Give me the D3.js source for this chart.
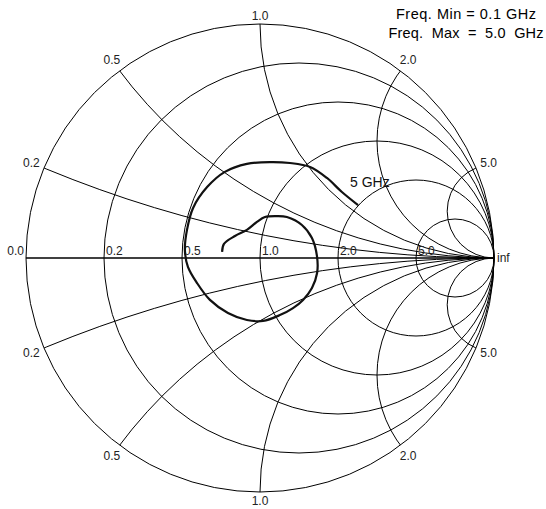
<!DOCTYPE html>
<html>
<head>
<meta charset="utf-8">
<script src="https://cdn.jsdelivr.net/npm/d3@7/dist/d3.min.js"></script>
<style>
  body { margin: 0; background: #fff; }
  svg { display: block; font-family: "Liberation Sans", Arial, sans-serif; }
</style>
</head>
<body>
<div id="smith"></div>
<script>
// Grid values (normalized resistance / reactance)
var rValues = [0.2, 0.5, 1.0, 2.0, 5.0];
var xValues = [0.2, 0.5, 1.0, 2.0, 5.0];
var rLabels = ["0.2", "0.5", "1.0", "2.0", "5.0"];
var xLabels = ["0.2", "0.5", "1.0", "2.0", "5.0"];

var gammaRe = [-0.162, -0.154, -0.107, -0.056, -0.013, 0.021, 0.073, 0.115, 0.179, 0.222,
  0.244, 0.244, 0.222, 0.184, 0.141, 0.085, 0.013, -0.056, -0.137, -0.214,
  -0.269, -0.308, -0.321, -0.312, -0.286, -0.226, -0.150, -0.056, 0.043, 0.128,
  0.214, 0.286, 0.350, 0.419];
var gammaIm = [0.026, 0.060, 0.094, 0.120, 0.154, 0.175, 0.179, 0.175, 0.141, 0.085,
  0.004, -0.064, -0.128, -0.179, -0.214, -0.244, -0.269, -0.265, -0.235, -0.179,
  -0.107, -0.038, 0.034, 0.120, 0.214, 0.303, 0.368, 0.402, 0.410, 0.406,
  0.389, 0.342, 0.282, 0.226];

var freqMin = "Freq. Min = 0.1 GHz";
var freqMax = "Freq.  Max  =  5.0  GHz";
var endLabel = "5 GHz";

var svg = d3.select("#smith")
  .append("svg")
  .attr("width", 546)
  .attr("height", 509);

var x = d3.scaleLinear().domain([-1, 1]).range([26, 494]);
var y = d3.scaleLinear().domain([-1, 1]).range([492, 24]);
var R = (x(1) - x(-1)) / 2;   // pixels per unit

// clip to the unit circle
svg.append("clipPath").attr("id", "unit")
  .append("circle")
  .attr("cx", x(0)).attr("cy", y(0)).attr("r", R);

var grid = svg.append("g")
  .attr("fill", "none")
  .attr("stroke", "#000")
  .attr("stroke-width", 1);

// Outer circle
grid.append("circle")
  .attr("cx", x(0)).attr("cy", y(0)).attr("r", R);

// Constant resistance circles
grid.selectAll(".rcircle")
  .data(rValues)
  .enter().append("circle")
  .attr("class", "rcircle")
  .attr("cx", d => x(d / (1 + d)))
  .attr("cy", y(0))
  .attr("r", d => R / (1 + d));

// Constant reactance arcs (both signs), clipped
var arcs = grid.append("g").attr("clip-path", "url(#unit)");
xValues.forEach(function(v) {
  [1, -1].forEach(function(s) {
    arcs.append("circle")
      .attr("cx", x(1))
      .attr("cy", y(s / v))
      .attr("r", R / v);
  });
});

// Real axis
grid.append("line")
  .attr("x1", x(-1)).attr("x2", x(1))
  .attr("y1", y(0)).attr("y2", y(0))
  .attr("stroke-width", 1.3);

// Labels
var labels = svg.append("g")
  .attr("font-size", 12)
  .attr("fill", "#222");

// resistance labels along the real axis
labels.selectAll(".rlab")
  .data(rValues)
  .enter().append("text")
  .attr("x", d => x((d - 1) / (d + 1)) + 2)
  .attr("y", y(0) - 3)
  .text((d, i) => rLabels[i]);

labels.append("text")
  .attr("x", x(-1) - 2).attr("y", y(0) - 3)
  .attr("text-anchor", "end")
  .text("0.0");

labels.append("text")
  .attr("x", x(1) + 3).attr("y", y(0) + 4)
  .text("inf");

// reactance labels around the rim
xValues.forEach(function(v, i) {
  [1, -1].forEach(function(s) {
    var gr = (v * v - 1) / (v * v + 1);
    var gi = s * 2 * v / (v * v + 1);
    var ang = Math.atan2(gi, gr);
    var c = Math.cos(ang), sn = Math.sin(ang);
    var dist = 3.5 + Math.abs(c) * 9 + Math.abs(sn) * 5;
    labels.append("text")
      .attr("x", x(gr) + c * dist)
      .attr("y", y(gi) - sn * dist + 4)
      .attr("text-anchor", "middle")
      .text(xLabels[i]);
  });
});

// Data trace
var pts = gammaRe.map((d, i) => [d, gammaIm[i]]);
var line = d3.line()
  .x(d => x(d[0]))
  .y(d => y(d[1]))
  .curve(d3.curveCatmullRom.alpha(0.5));

svg.append("path")
  .datum(pts)
  .attr("d", line)
  .attr("fill", "none")
  .attr("stroke", "#111")
  .attr("stroke-width", 2.2)
  .attr("stroke-linejoin", "round");

var last = pts[pts.length - 1];
svg.append("text")
  .attr("x", x(last[0]) - 8)
  .attr("y", y(last[1]) - 18)
  .attr("font-size", 14)
  .attr("fill", "#111")
  .text(endLabel);

// Frequency info
svg.append("text")
  .attr("x", 466).attr("y", 19)
  .attr("text-anchor", "middle")
  .attr("font-size", 14.5)
  .attr("textLength", 140)
  .attr("lengthAdjust", "spacing")
  .style("white-space", "pre")
  .text(freqMin);

svg.append("text")
  .attr("x", 466).attr("y", 38)
  .attr("text-anchor", "middle")
  .attr("font-size", 14.5)
  .attr("textLength", 155)
  .attr("lengthAdjust", "spacing")
  .style("white-space", "pre")
  .text(freqMax);
</script>
</body>
</html>
